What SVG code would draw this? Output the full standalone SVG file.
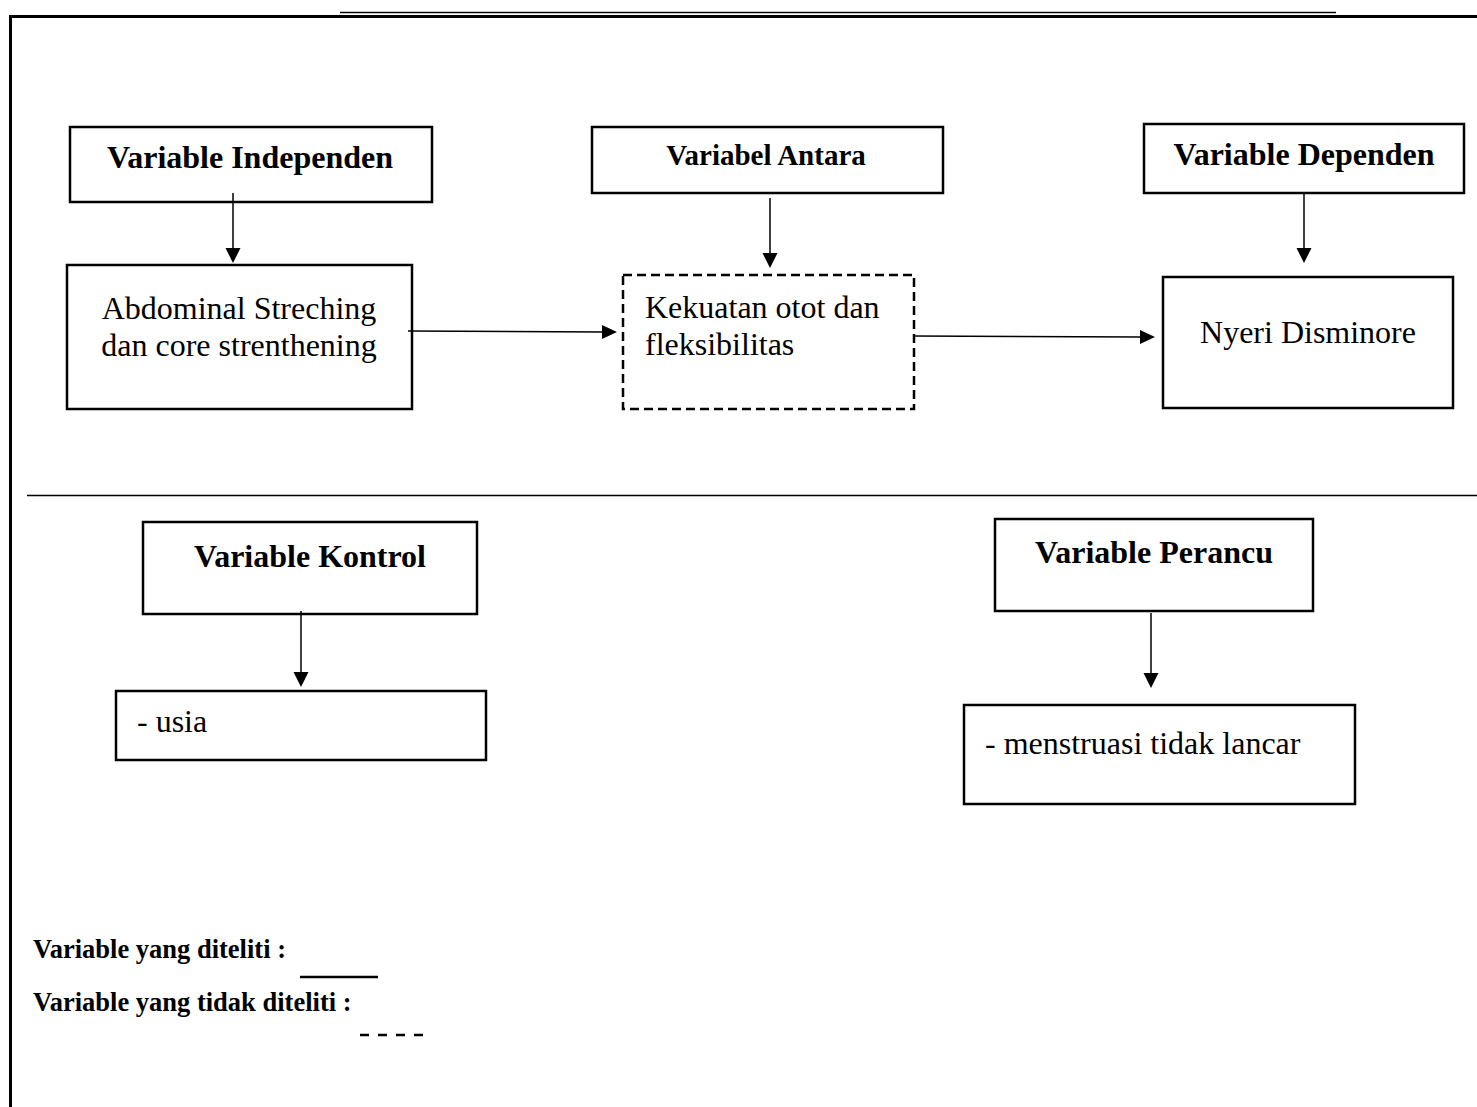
<svg xmlns="http://www.w3.org/2000/svg" width="1477" height="1107" viewBox="0 0 1477 1107">
<style>
.box{fill:#fff;stroke:#000;stroke-width:2.5}
.dash{fill:#fff;stroke:#000;stroke-width:2.5;stroke-dasharray:9 5}
.t{font-family:"Liberation Serif","Times New Roman",serif;font-size:32px;fill:#000}
.b{font-weight:bold}
.c{text-anchor:middle}
.ln{stroke:#000;stroke-width:1.5;fill:none}
.ah{fill:#000}
</style>
<rect width="1477" height="1107" fill="#fff"/>
<g id="frame">
<line x1="340" y1="12.5" x2="1336" y2="12.5" stroke="#000" stroke-width="1.5"/>
<line x1="9" y1="16.5" x2="1477" y2="16.5" stroke="#000" stroke-width="3"/>
<line x1="10.5" y1="15" x2="10.5" y2="1107" stroke="#000" stroke-width="3"/>
<line x1="27" y1="495.5" x2="1477" y2="495.5" stroke="#000" stroke-width="1.5"/>
</g>
<g id="n-independen"><rect class="box" x="70" y="127" width="362" height="75"/><text class="t b c" x="250" y="168">Variable Independen</text></g>
<g id="n-antara"><rect class="box" x="592" y="127" width="351" height="66"/><text class="t b c" x="766" y="165" style="font-size:29px">Variabel Antara</text></g>
<g id="n-dependen"><rect class="box" x="1144" y="124" width="320" height="69"/><text class="t b c" x="1304" y="165">Variable Dependen</text></g>
<g id="n-abdominal"><rect class="box" x="67" y="265" width="345" height="144"/><text class="t c" x="239" y="319">Abdominal Streching</text><text class="t c" x="239" y="356">dan core strenthening</text></g>
<g id="n-kekuatan"><rect class="dash" x="623" y="275" width="291" height="134"/><text class="t" x="645" y="318">Kekuatan otot dan</text><text class="t" x="645" y="355">fleksibilitas</text></g>
<g id="n-nyeri"><rect class="box" x="1163" y="277" width="290" height="131"/><text class="t c" x="1308" y="343">Nyeri Disminore</text></g>
<g id="n-kontrol"><rect class="box" x="143" y="522" width="334" height="92"/><text class="t b c" x="310" y="567">Variable Kontrol</text></g>
<g id="n-usia"><rect class="box" x="116" y="691" width="370" height="69"/><text class="t" x="137" y="732">- usia</text></g>
<g id="n-perancu"><rect class="box" x="995" y="519" width="318" height="92"/><text class="t b c" x="1154" y="563">Variable Perancu</text></g>
<g id="n-menstruasi"><rect class="box" x="964" y="705" width="391" height="99"/><text class="t" x="985" y="754">- menstruasi tidak lancar</text></g>
<g id="connectors">
<line class="ln" x1="233" y1="193" x2="233" y2="250"/><polygon class="ah" points="225.5,248 240.5,248 233,263"/>
<line class="ln" x1="770" y1="198" x2="770" y2="255"/><polygon class="ah" points="762.5,253 777.5,253 770,268"/>
<line class="ln" x1="1304" y1="193" x2="1304" y2="250"/><polygon class="ah" points="1296.5,248 1311.5,248 1304,263"/>
<line class="ln" x1="408" y1="331" x2="604" y2="332"/><polygon class="ah" points="602,325 602,339 617,332"/>
<line class="ln" x1="913" y1="336" x2="1142" y2="337"/><polygon class="ah" points="1140,330 1140,344 1155,337"/>
<line class="ln" x1="301" y1="611" x2="301" y2="674"/><polygon class="ah" points="293.5,672 308.5,672 301,687"/>
<line class="ln" x1="1151" y1="613" x2="1151" y2="675"/><polygon class="ah" points="1143.5,673 1158.5,673 1151,688"/>
</g>
<g id="legend">
<text class="t b" x="33" y="958" style="font-size:26.5px">Variable yang diteliti :</text>
<line x1="300" y1="977" x2="378" y2="977" stroke="#000" stroke-width="2.5"/>
<text class="t b" x="33" y="1011" style="font-size:26.5px">Variable yang tidak diteliti :</text>
<line x1="360" y1="1035" x2="424" y2="1035" stroke="#000" stroke-width="2.5" stroke-dasharray="9 9"/>
</g>
</svg>
